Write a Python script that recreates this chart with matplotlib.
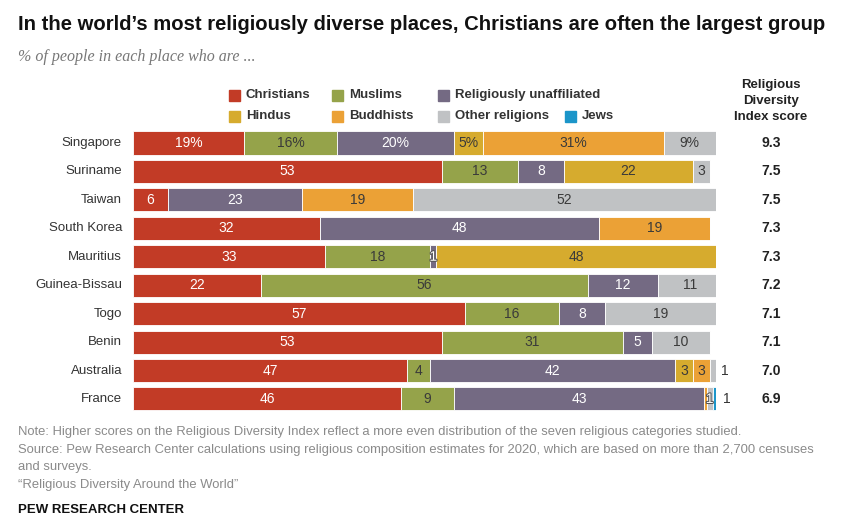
import matplotlib.pyplot as plt
import matplotlib.patheffects as pe
import numpy as np
from matplotlib import font_manager

countries = ['Singapore', 'Suriname', 'Taiwan', 'South Korea', 'Mauritius',
             'Guinea-Bissau', 'Togo', 'Benin', 'Australia', 'France']
groups = ['Christians', 'Muslims', 'Religiously unaffiliated', 'Hindus',
          'Buddhists', 'Other religions', 'Jews']
christians = [19, 53, 6, 32, 33, 22, 57, 53, 47, 46]
muslims = [16, 13, 0, 0, 18, 56, 16, 31, 4, 9]
unaffiliated = [20, 8, 23, 48, 1, 12, 8, 5, 42, 43]
hindus = [5, 22, 0, 0, 48, 0, 0, 0, 3, 0]
buddhists = [31, 0, 19, 19, 0, 0, 0, 0, 3, 0.4]
other = [9, 3, 52, 0, 0, 11, 19, 10, 1, 1]
jews = [0, 0, 0, 0, 0, 0, 0, 0, 0, 1]
scores = ['9.3', '7.5', '7.5', '7.3', '7.3', '7.2', '7.1', '7.1', '7.0', '6.9']

colors = ['#c23b26', '#95a34a', '#746a83', '#d6ab2e', '#eba136', '#c0c2c4', '#1b95c9']
light_text = [True, False, True, False, False, False, False]

names = {f.name for f in font_manager.fontManager.ttflist}
narrow = 'Liberation Sans Narrow' if 'Liberation Sans Narrow' in names else 'Liberation Sans'
plt.rcParams['font.family'] = ['Liberation Sans', 'DejaVu Sans']

W, H = 860, 532
fig = plt.figure(figsize=(W / 100, H / 100), dpi=100)


def fx(px):
    return px / W


def fy(py):
    return 1 - py / H


row_h = 28.44
top = 143 - row_h / 2
ax = fig.add_axes([fx(133), fy(top + 10 * row_h), fx(716) - fx(133), 10 * row_h / H])
ax.set_xlim(0, 100)
ax.set_ylim(9.5, -0.5)
ax.axis('off')

data = np.array([christians, muslims, unaffiliated, hindus, buddhists, other, jews], dtype=float)
y = np.arange(len(countries))
left = np.zeros(len(countries))
for g in range(len(groups)):
    vals = data[g]
    ax.barh(y, vals, left=left, height=0.81, color=colors[g],
            edgecolor='white', linewidth=0.6)
    for i, v in enumerate(vals):
        if v < 1:
            continue
        txt = f'{v:g}%' if i == 0 else f'{v:g}'
        is_last = not data[g + 1:, i].any()
        if v < 2 and is_last:
            ax.text(left[i] + v + 0.8, i, txt, ha='left', va='center',
                    fontsize=10, color='#333333', clip_on=False)
        elif v < 2:
            ax.text(left[i] + v / 2, i, txt, ha='center', va='center',
                    fontsize=10, color='white',
                    path_effects=[pe.withStroke(linewidth=1.5, foreground='#555555')])
        else:
            ax.text(left[i] + v / 2, i, txt, ha='center', va='center',
                    fontsize=10,
                    color='white' if light_text[g] else '#3a3a3a')
    left += vals

for i, c in enumerate(countries):
    fig.text(fx(122), fy(143 + i * row_h), c, ha='right', va='center',
             fontsize=9.5, color='#333333')
    fig.text(fx(771), fy(143 + i * row_h), scores[i], ha='center', va='center',
             fontsize=10, fontweight='bold', color='#222222')

fig.text(fx(771), fy(101), 'Religious\nDiversity\nIndex score', ha='center', va='center',
         fontsize=9.5, fontweight='bold', family=[narrow, 'DejaVu Sans'],
         color='#222222', linespacing=1.4)

# legend
leg_pos = [(232, 95), (335, 95), (441, 95), (232, 116), (335, 116), (441, 116), (568, 116)]
for g, (lx, ly) in enumerate(leg_pos):
    fig.patches.append(plt.Rectangle((fx(lx - 3), fy(ly + 5.5)), 11 / W, 11 / H,
                                     transform=fig.transFigure, color=colors[g]))
    fig.text(fx(lx + 14), fy(ly), groups[g], ha='left', va='center', fontsize=9.5,
             fontweight='bold', family=[narrow, 'DejaVu Sans'], color='#333333')

fig.text(fx(18), fy(25), "In the world\u2019s most religiously diverse places, Christians are often the largest group",
         ha='left', va='center', fontsize=14.6, fontweight='bold',
         family=[narrow, 'DejaVu Sans'], color='#111111')
fig.text(fx(18), fy(57), '% of people in each place who are ...', ha='left', va='center',
         fontsize=11.5, style='italic', family=['Liberation Serif', 'DejaVu Serif'],
         color='#777777')

foot = ('Note: Higher scores on the Religious Diversity Index reflect a more even distribution '
        'of the seven religious categories studied.\n'
        'Source: Pew Research Center calculations using religious composition estimates for 2020, '
        'which are based on more than 2,700 censuses\nand surveys.\n'
        '\u201cReligious Diversity Around the World\u201d')
fig.text(fx(18), fy(426), foot, ha='left', va='top', fontsize=9.4,
         family=[narrow, 'DejaVu Sans'], color='#8a8a8a', linespacing=1.62)
fig.text(fx(18), fy(510), 'PEW RESEARCH CENTER', ha='left', va='center', fontsize=9.5,
         fontweight='bold', family=[narrow, 'DejaVu Sans'], color='#111111')

fig.savefig('out.png', dpi=100, facecolor='white')
